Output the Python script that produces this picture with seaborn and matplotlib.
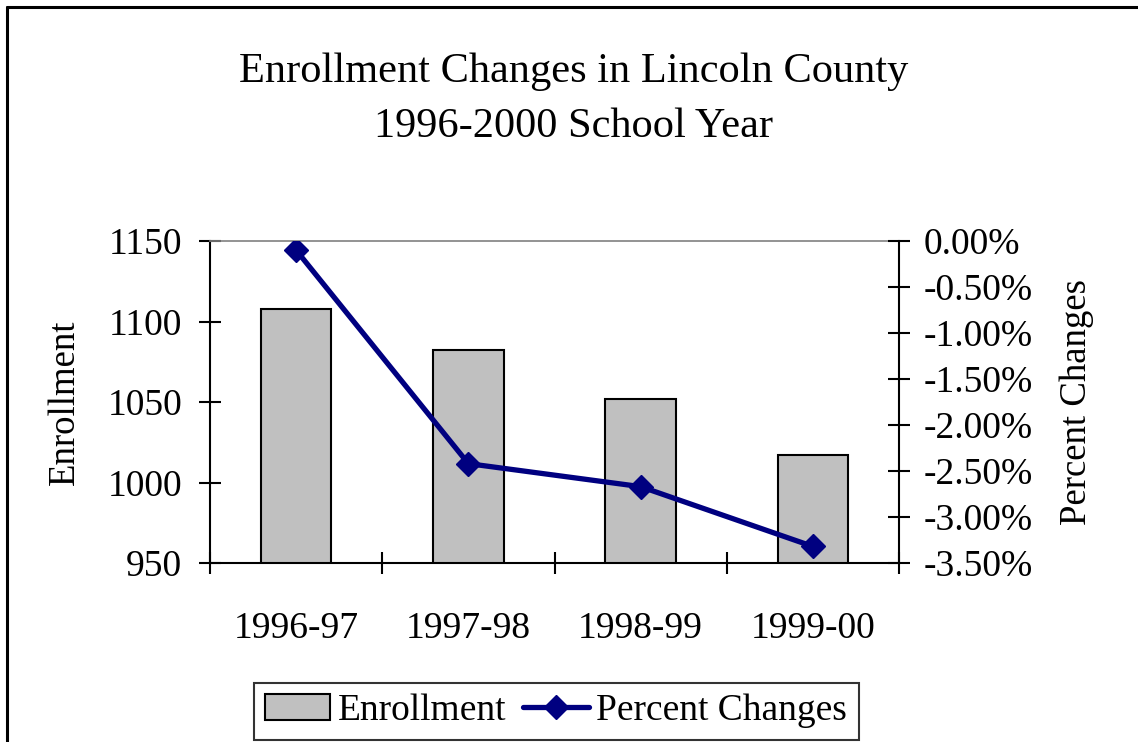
import matplotlib
matplotlib.use("Agg")
import matplotlib.pyplot as plt
import seaborn as sns
import pandas as pd
import numpy as np
from matplotlib.lines import Line2D
from matplotlib.patches import Patch
from matplotlib.ticker import FuncFormatter, MultipleLocator, FixedLocator

# ---- data ----
years = ["1996-97", "1997-98", "1998-99", "1999-00"]
enrollment = [1108, 1082, 1052, 1017]
pct_change = [-0.10, -2.42, -2.67, -3.32]

sns.set_theme(style="white")
plt.rcParams["font.family"] = ["Liberation Serif", "DejaVu Serif"]
plt.rcParams["axes.unicode_minus"] = False
plt.rcParams["text.color"] = "black"
plt.rcParams["axes.labelcolor"] = "black"

W, H = 1138, 742
fig = plt.figure(figsize=(W / 100, H / 100), dpi=100)
L, R, T, B = 210, 899, 241, 563
ax = fig.add_axes([L / W, 1 - B / H, (R - L) / W, (B - T) / H])

df = pd.DataFrame({"Year": years, "Enrollment": enrollment, "Pct": pct_change})

FS = 27
FS_LAB = 26.5
FS_TITLE = 30.5
BAR_C = "#C0C0C0"
LINE_C = "#000080"

sns.barplot(data=df, x="Year", y="Enrollment", order=years, color=BAR_C,
            edgecolor="black", linewidth=1.5, width=0.41, saturation=1, ax=ax)
ax.set_ylim(950, 1150)
ax.yaxis.set_major_locator(MultipleLocator(50))
ax.set_xlim(-0.5, 3.5)

ax2 = ax.twinx()
sns.pointplot(data=df, x="Year", y="Pct", order=years, color=LINE_C,
              markers="D", linestyles="-", ax=ax2)
for ln in ax2.lines:
    ln.set_linewidth(3.8)
    ln.set_markersize(12.5)
    ln.set_markeredgewidth(1)
ax2.set_ylim(-3.5, 0)
ax2.yaxis.set_major_locator(MultipleLocator(0.5))

def pfmt(v, pos):
    if abs(v) < 1e-9:
        return "0.00%"
    return f"{v:.2f}%"
ax2.yaxis.set_major_formatter(FuncFormatter(pfmt))
ax2.set_xlim(-0.5, 3.5)

# x ticks: boundaries as major (no labels), categories as minor (labels)
ax.xaxis.set_major_locator(FixedLocator([-0.5, 0.5, 1.5, 2.5, 3.5]))
ax.xaxis.set_minor_locator(FixedLocator([0, 1, 2, 3]))
ax.set_xticklabels([""] * 5)
ax.set_xticklabels(years, minor=True)
ax.tick_params(axis="x", which="major", direction="inout", length=16, width=1.5,
               color="black", bottom=True)
ax.tick_params(axis="x", which="minor", length=0, pad=35, labelsize=FS,
               labelcolor="black", bottom=True)
ax.tick_params(axis="y", which="major", direction="inout", length=16, width=1.5,
               color="black", left=True, pad=12, labelsize=FS, labelcolor="black")
ax2.tick_params(axis="y", which="major", direction="inout", length=16, width=1.5,
                color="black", right=True, pad=10, labelsize=FS, labelcolor="black")

ax.set_xlabel("")
ax.set_ylabel("Enrollment", fontsize=FS_LAB, color="black")
ax.yaxis.label.set_verticalalignment("center")
ax.yaxis.set_label_coords((65 - L) / (R - L), 0.5)
ax2.set_xlabel("")
ax2.set_ylabel("Percent Changes", fontsize=FS_LAB, color="black")
ax2.yaxis.label.set_verticalalignment("center")
ax2.yaxis.set_label_coords((1077 - L) / (R - L), 0.5)

for a in (ax, ax2):
    a.grid(False)
    for s in a.spines.values():
        s.set_linewidth(1.5)
        s.set_color("black")
ax.spines["top"].set_color("#808080")
ax.spines["top"].set_linewidth(1.2)
ax.spines["right"].set_visible(False)
ax2.spines["top"].set_visible(False)
ax2.spines["left"].set_visible(False)
ax2.spines["bottom"].set_visible(False)
ax.set_facecolor("white")
ax2.patch.set_visible(False)

# title
fig.text(574 / W, 1 - 72 / H, "Enrollment Changes in Lincoln County",
         ha="center", va="center", fontsize=FS_TITLE, color="black")
fig.text(574 / W, 1 - 127 / H, "1996-2000 School Year",
         ha="center", va="center", fontsize=FS_TITLE, color="black")

# legend
handles = [Patch(facecolor=BAR_C, edgecolor="black", linewidth=1.5),
           Line2D([], [], color=LINE_C, linewidth=3.8, marker="D", markersize=12.5)]
leg = fig.legend(handles, ["Enrollment", "Percent Changes"], loc="center",
                 bbox_to_anchor=(556 / W, 1 - 711 / H), ncol=2, fontsize=FS,
                 frameon=True, fancybox=False, edgecolor="black",
                 handlelength=1.75, handletextpad=0.2, columnspacing=0.45,
                 borderpad=0.3, borderaxespad=0)
leg.get_frame().set_linewidth(1.5)
for t in leg.get_texts():
    t.set_color("black")

# outer frame (left & top edges)
fig.add_artist(Line2D([7 / W, 7 / W], [0, 1 - 7 / H], color="black", linewidth=2.2,
                      transform=fig.transFigure))
fig.add_artist(Line2D([7 / W, 1], [1 - 7 / H, 1 - 7 / H], color="black", linewidth=2.2,
                      transform=fig.transFigure))

fig.savefig("out.png", dpi=100, facecolor="white")
